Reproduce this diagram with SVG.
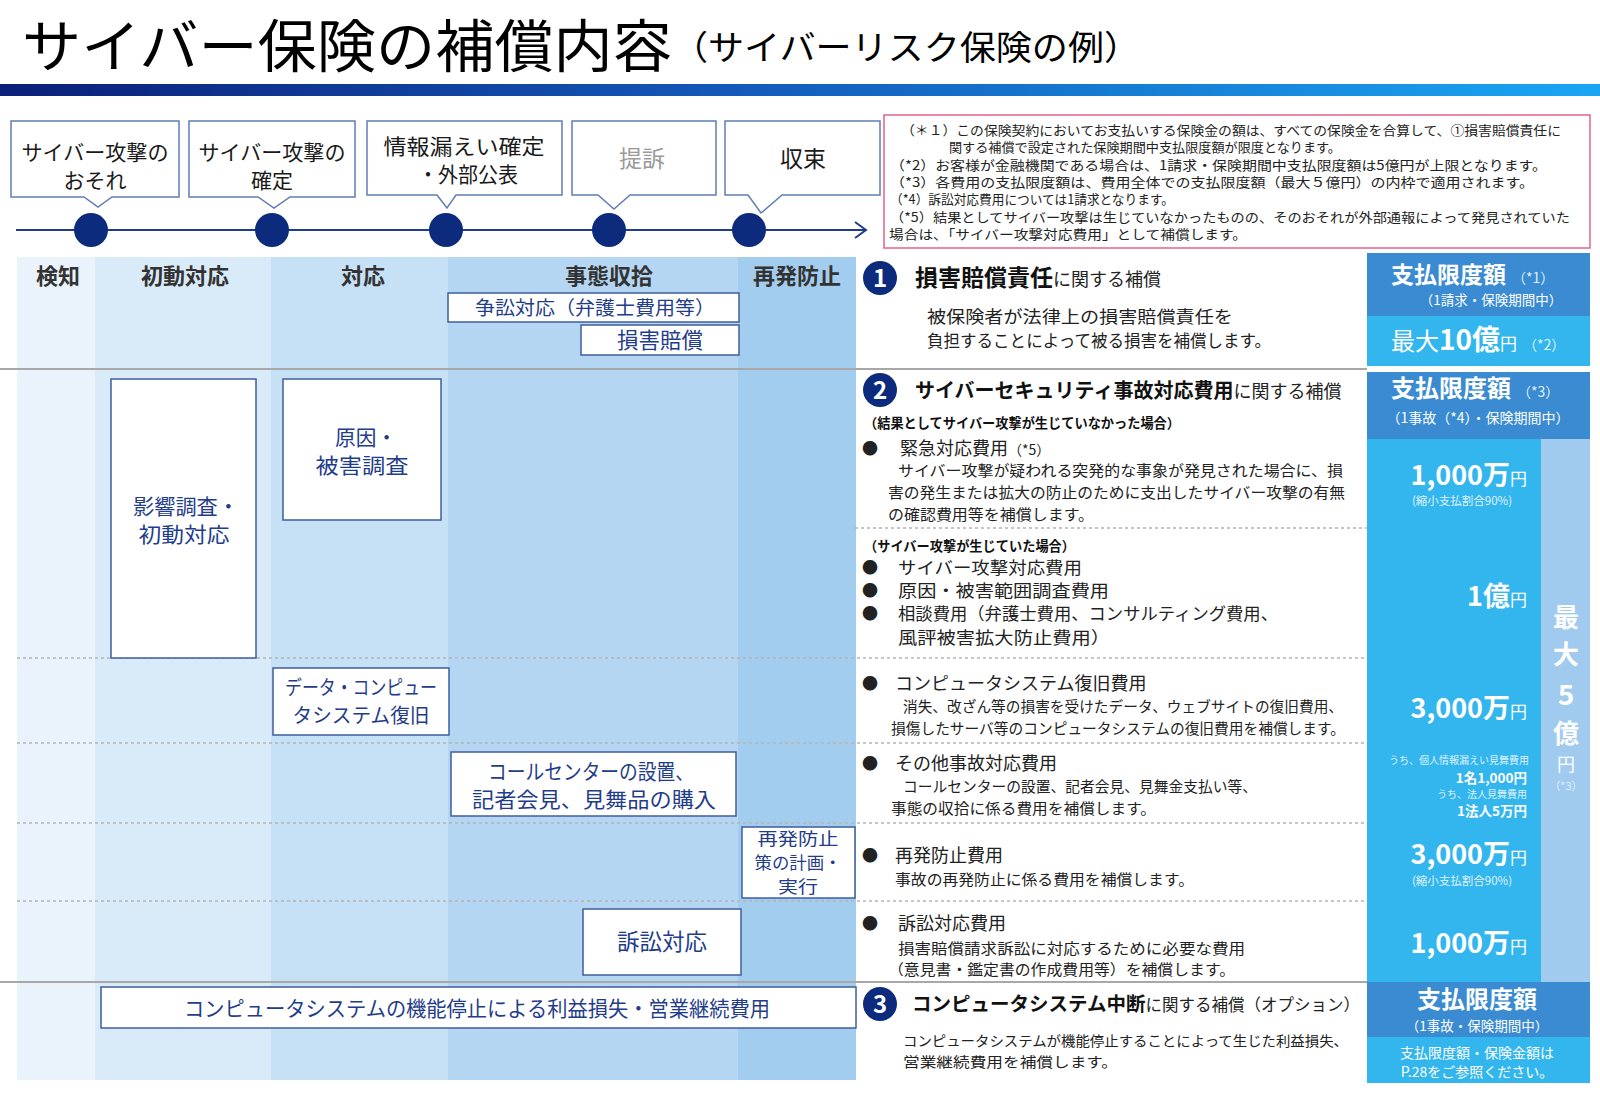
<svg xmlns="http://www.w3.org/2000/svg" width="1600" height="1093" viewBox="0 0 1600 1093">
<defs>
<linearGradient id="bar" x1="0" y1="0" x2="1" y2="0">
<stop offset="0" stop-color="#0a1f78"/>
<stop offset="0.45" stop-color="#1358b8"/>
<stop offset="1" stop-color="#19a6f4"/>
</linearGradient>
<style>
text{font-family:"Noto Sans CJK JP","Noto Sans",sans-serif;}
.callout{fill:#fff;stroke:#5f7db3;stroke-width:1.5;}
.ct{font-size:21px;fill:#1a1a1a;text-anchor:middle;}
.dot{fill:#0d2b7d;}
.hdr{font-size:22px;font-weight:bold;fill:#333;text-anchor:middle;}
.box{fill:#fff;stroke:#3e5d9c;stroke-width:1.5;}
.bt{fill:#1f3d8a;text-anchor:middle;}
.sep{stroke:#a8a8a8;stroke-width:2;}
.dash{stroke:#b4b4b4;stroke-width:1.5;stroke-dasharray:3 3;}
.num{fill:#0d2b7d;}
.numt{font-size:24px;font-weight:bold;fill:#fff;text-anchor:middle;}
.tb{font-weight:bold;fill:#111;}
.tx{fill:#222;}
.dark{fill:#3a8bd1;}
.cyan{fill:#33b6ed;}
.strip{fill:#a0cbef;}
.w{fill:#fff;}
.wl{fill:#dff1fc;}
</style>
</defs>
<rect x="0" y="0" width="1600" height="1093" fill="#fff"/>

<g id="title">
<text x="22" y="66.5" font-size="57" fill="#000" textLength="650" lengthAdjust="spacingAndGlyphs">サイバー保険の補償内容</text>
<text x="672" y="60" font-size="34" fill="#000" textLength="468" lengthAdjust="spacingAndGlyphs">（サイバーリスク保険の例）</text>
<rect x="0" y="84" width="1600" height="12" fill="url(#bar)"/>
</g>

<g id="columns">
<rect x="17" y="257" width="78" height="823" fill="#eaf3fc"/>
<rect x="95" y="257" width="176" height="823" fill="#d9eaf9"/>
<rect x="271" y="257" width="177" height="823" fill="#c6e0f6"/>
<rect x="448" y="257" width="290" height="823" fill="#b4d6f2"/>
<rect x="738" y="257" width="118" height="823" fill="#a3cdef"/>
<text class="hdr" x="58" y="284">検知</text>
<text class="hdr" x="185" y="284">初動対応</text>
<text class="hdr" x="363" y="284">対応</text>
<text class="hdr" x="609" y="284">事態収拾</text>
<text class="hdr" x="797" y="284">再発防止</text>
</g>

<g id="connectors">
<line x1="16" y1="230" x2="866" y2="230" stroke="#1f3d8a" stroke-width="2"/>
<polyline points="855,222 866,230 855,238" fill="none" stroke="#1f3d8a" stroke-width="2"/>
<line class="sep" x1="0" y1="369" x2="1367" y2="369"/>
<line class="sep" x1="0" y1="982" x2="1367" y2="982"/>
<line class="dash" x1="855" y1="528" x2="1541" y2="528"/>
<line class="dash" x1="17" y1="658" x2="1541" y2="658"/>
<line class="dash" x1="17" y1="743" x2="1541" y2="743"/>
<line class="dash" x1="17" y1="823" x2="1541" y2="823"/>
<line class="dash" x1="17" y1="901" x2="1541" y2="901"/>
</g>

<g id="ev1">
<path class="callout" d="M11,121 H179 V197 H112 L98,207 L84,197 H11 Z"/>
<text class="ct" x="95" y="160" textLength="147" lengthAdjust="spacingAndGlyphs">サイバー攻撃の</text>
<text class="ct" x="95" y="188">おそれ</text>
<circle class="dot" cx="91" cy="230" r="17"/>
</g>
<g id="ev2">
<path class="callout" d="M189,121 H355 V197 H290 L274,208 L258,197 H189 Z"/>
<text class="ct" x="272" y="160" textLength="147" lengthAdjust="spacingAndGlyphs">サイバー攻撃の</text>
<text class="ct" x="272" y="188">確定</text>
<circle class="dot" cx="272" cy="230" r="17"/>
</g>
<g id="ev3">
<path class="callout" d="M367,121 H562 V195 H456 L447,208 L437,195 H367 Z"/>
<text class="ct" x="464" y="154" textLength="161" lengthAdjust="spacingAndGlyphs">情報漏えい確定</text>
<text class="ct" x="468" y="182" textLength="100" lengthAdjust="spacingAndGlyphs">・外部公表</text>
<circle class="dot" cx="446" cy="230" r="17"/>
</g>
<g id="ev4">
<path class="callout" d="M572,121 H716 V195 H630 L614,209 L598,195 H572 Z"/>
<text class="ct" x="642" y="167" style="fill:#9a9a9a;font-size:23px">提訴</text>
<circle class="dot" cx="609" cy="230" r="17"/>
</g>
<g id="ev5">
<path class="callout" d="M725,121 H880 V195 H782 L761,213 L748,195 H725 Z"/>
<text class="ct" x="803" y="167" style="font-size:23px">収束</text>
<circle class="dot" cx="749" cy="230" r="17"/>
</g>

<g id="box-soshou">
<rect class="box" x="448" y="293" width="291" height="29"/>
<text class="bt" x="595" y="315" font-size="19" textLength="240" lengthAdjust="spacingAndGlyphs">争訟対応（弁護士費用等）</text>
</g>
<g id="box-songai">
<rect class="box" x="581" y="325" width="158" height="30"/>
<text class="bt" x="660" y="348" font-size="21.5">損害賠償</text>
</g>
<g id="box-eikyou">
<rect class="box" x="111" y="379" width="145" height="279"/>
<text class="bt" x="186" y="514" font-size="21" textLength="106" lengthAdjust="spacingAndGlyphs">影響調査・</text>
<text class="bt" x="184" y="542" font-size="21" textLength="91" lengthAdjust="spacingAndGlyphs">初動対応</text>
</g>
<g id="box-genin">
<rect class="box" x="283" y="379" width="158" height="141"/>
<text class="bt" x="366" y="445" font-size="21" textLength="62" lengthAdjust="spacingAndGlyphs">原因・</text>
<text class="bt" x="362" y="473" font-size="21" textLength="93" lengthAdjust="spacingAndGlyphs">被害調査</text>
</g>
<g id="box-data">
<rect class="box" x="273" y="668" width="176" height="67"/>
<text class="bt" x="361" y="695" font-size="20" textLength="152" lengthAdjust="spacingAndGlyphs">データ・コンピュー</text>
<text class="bt" x="361" y="723" font-size="20" textLength="137" lengthAdjust="spacingAndGlyphs">タシステム復旧</text>
</g>
<g id="box-call">
<rect class="box" x="451" y="752" width="285" height="64"/>
<text class="bt" x="591" y="779" font-size="21" textLength="206" lengthAdjust="spacingAndGlyphs">コールセンターの設置、</text>
<text class="bt" x="594" y="807" font-size="21" textLength="244" lengthAdjust="spacingAndGlyphs">記者会見、見舞品の購入</text>
</g>
<g id="box-saihatsu">
<rect class="box" x="742" y="827" width="113" height="71"/>
<text class="bt" x="798" y="845" font-size="17" textLength="81" lengthAdjust="spacingAndGlyphs">再発防止</text>
<text class="bt" x="798" y="869" font-size="17" textLength="87" lengthAdjust="spacingAndGlyphs">策の計画・</text>
<text class="bt" x="798" y="893" font-size="17" textLength="40" lengthAdjust="spacingAndGlyphs">実行</text>
</g>
<g id="box-sosho">
<rect class="box" x="583" y="909" width="158" height="66"/>
<text class="bt" x="662" y="950" font-size="22.5">訴訟対応</text>
</g>
<g id="box-teishi">
<rect class="box" x="101" y="987" width="755" height="41"/>
<text class="bt" x="477" y="1016" font-size="21" textLength="586" lengthAdjust="spacingAndGlyphs">コンピュータシステムの機能停止による利益損失・営業継続費用</text>
</g>

<g id="footnotes">
<rect x="884" y="115" width="706" height="133" fill="#fff" stroke="#e3628e" stroke-width="1.5"/>
<text class="tx" font-size="13" x="901" y="135" textLength="660" lengthAdjust="spacingAndGlyphs">（＊１）この保険契約においてお支払いする保険金の額は、すべての保険金を合算して、①損害賠償責任に</text>
<text class="tx" font-size="13" x="949" y="152" textLength="392" lengthAdjust="spacingAndGlyphs">関する補償で設定された保険期間中支払限度額が限度となります。</text>
<text class="tx" font-size="13" x="890" y="169.5" textLength="657" lengthAdjust="spacingAndGlyphs">（*2）お客様が金融機関である場合は、1請求・保険期間中支払限度額は5億円が上限となります。</text>
<text class="tx" font-size="13" x="890" y="187" textLength="644" lengthAdjust="spacingAndGlyphs">（*3）各費用の支払限度額は、費用全体での支払限度額（最大５億円）の内枠で適用されます。</text>
<text class="tx" font-size="13" x="890" y="204" textLength="284" lengthAdjust="spacingAndGlyphs">（*4）訴訟対応費用については1請求となります。</text>
<text class="tx" font-size="13" x="890" y="221.5" textLength="680" lengthAdjust="spacingAndGlyphs">（*5）結果としてサイバー攻撃は生じていなかったものの、そのおそれが外部通報によって発見されていた</text>
<text class="tx" font-size="13" x="889" y="239" textLength="358" lengthAdjust="spacingAndGlyphs">場合は、「サイバー攻撃対応費用」として補償します。</text>
</g>

<g id="sec1">
<circle class="num" cx="880" cy="278" r="17"/>
<text class="numt" x="880" y="287">1</text>
<text x="915" y="286"><tspan class="tb" font-size="23">損害賠償責任</tspan><tspan class="tx" font-size="18">に関する補償</tspan></text>
<text class="tx" font-size="17" x="927" y="323" textLength="306" lengthAdjust="spacingAndGlyphs">被保険者が法律上の損害賠償責任を</text>
<text class="tx" font-size="17" x="927" y="347" textLength="344" lengthAdjust="spacingAndGlyphs">負担することによって被る損害を補償します。</text>
</g>
<g id="limit1">
<rect class="dark" x="1367" y="253" width="223" height="63"/>
<rect class="cyan" x="1367" y="316" width="223" height="50"/>
<text x="1391" y="282.5"><tspan class="w" font-size="23" font-weight="bold">支払限度額</tspan><tspan class="wl" font-size="14" dx="6">（*1）</tspan></text>
<text class="w" x="1491" y="305" font-size="13.5" text-anchor="middle">（1請求・保険期間中）</text>
<text x="1391" y="350"><tspan class="w" font-size="24">最大</tspan><tspan class="w" font-size="28" font-weight="bold">10億</tspan><tspan class="w" font-size="17">円</tspan><tspan class="wl" font-size="14" dx="6">（*2）</tspan></text>
</g>

<g id="sec2">
<circle class="num" cx="880" cy="390" r="17"/>
<text class="numt" x="880" y="399">2</text>
<text x="915" y="398"><tspan class="tb" font-size="20">サイバーセキュリティ事故対応費用</tspan><tspan class="tx" font-size="18">に関する補償</tspan></text>
<text class="tb" font-size="13.5" x="864" y="428" textLength="316" lengthAdjust="spacingAndGlyphs">（結果としてサイバー攻撃が生じていなかった場合）</text>
<text class="tx" font-size="16" x="862" y="454">●</text>
<text class="tx" x="900" y="455"><tspan font-size="18">緊急対応費用</tspan><tspan font-size="14">（*5）</tspan></text>
<text class="tx" font-size="15" x="898" y="476" textLength="445" lengthAdjust="spacingAndGlyphs">サイバー攻撃が疑われる突発的な事象が発見された場合に、損</text>
<text class="tx" font-size="15" x="888" y="498" textLength="457" lengthAdjust="spacingAndGlyphs">害の発生または拡大の防止のために支出したサイバー攻撃の有無</text>
<text class="tx" font-size="15" x="888" y="520" textLength="206" lengthAdjust="spacingAndGlyphs">の確認費用等を補償します。</text>
<text class="tb" font-size="13.5" x="864" y="551" textLength="211" lengthAdjust="spacingAndGlyphs">（サイバー攻撃が生じていた場合）</text>
<text class="tx" font-size="16" x="862" y="573">●</text>
<text class="tx" font-size="17" x="898" y="574" textLength="184" lengthAdjust="spacingAndGlyphs">サイバー攻撃対応費用</text>
<text class="tx" font-size="16" x="862" y="596">●</text>
<text class="tx" font-size="17" x="898" y="597" textLength="211" lengthAdjust="spacingAndGlyphs">原因・被害範囲調査費用</text>
<text class="tx" font-size="16" x="862" y="619">●</text>
<text class="tx" font-size="17" x="898" y="620" textLength="380" lengthAdjust="spacingAndGlyphs">相談費用（弁護士費用、コンサルティング費用、</text>
<text class="tx" font-size="17" x="898" y="644" textLength="212" lengthAdjust="spacingAndGlyphs">風評被害拡大防止費用）</text>
<text class="tx" font-size="16" x="862" y="689">●</text>
<text class="tx" font-size="18" x="895" y="690">コンピュータシステム復旧費用</text>
<text class="tx" font-size="15" x="903" y="712" textLength="440" lengthAdjust="spacingAndGlyphs">消失、改ざん等の損害を受けたデータ、ウェブサイトの復旧費用、</text>
<text class="tx" font-size="15" x="891" y="734" textLength="454" lengthAdjust="spacingAndGlyphs">損傷したサーバ等のコンピュータシステムの復旧費用を補償します。</text>
<text class="tx" font-size="16" x="862" y="769">●</text>
<text class="tx" font-size="18" x="895" y="770">その他事故対応費用</text>
<text class="tx" font-size="15" x="903" y="792" textLength="354" lengthAdjust="spacingAndGlyphs">コールセンターの設置、記者会見、見舞金支払い等、</text>
<text class="tx" font-size="15" x="891" y="814" textLength="265" lengthAdjust="spacingAndGlyphs">事態の収拾に係る費用を補償します。</text>
<text class="tx" font-size="16" x="862" y="861">●</text>
<text class="tx" font-size="18" x="895" y="862">再発防止費用</text>
<text class="tx" font-size="15" x="895" y="885" textLength="299" lengthAdjust="spacingAndGlyphs">事故の再発防止に係る費用を補償します。</text>
<text class="tx" font-size="16" x="862" y="929">●</text>
<text class="tx" font-size="18" x="898" y="930">訴訟対応費用</text>
<text class="tx" font-size="15" x="898" y="954" textLength="347" lengthAdjust="spacingAndGlyphs">損害賠償請求訴訟に対応するために必要な費用</text>
<text class="tx" font-size="15" x="888" y="975" textLength="347" lengthAdjust="spacingAndGlyphs">（意見書・鑑定書の作成費用等）を補償します。</text>
</g>
<g id="limit2">
<rect class="dark" x="1367" y="372" width="223" height="67"/>
<rect class="cyan" x="1367" y="439" width="174" height="543"/>
<rect class="strip" x="1541" y="439" width="49" height="543"/>
<text x="1391" y="397"><tspan class="w" font-size="24" font-weight="bold">支払限度額</tspan><tspan class="wl" font-size="14" dx="6">（*3）</tspan></text>
<text class="w" x="1478" y="423" font-size="14" text-anchor="middle">（1事故（*4）・保険期間中）</text>
<text x="1527" y="485" text-anchor="end"><tspan class="w" font-size="27" font-weight="bold">1,000万</tspan><tspan class="w" font-size="17">円</tspan></text>
<text class="wl" x="1462" y="505" font-size="11.5" text-anchor="middle">(縮小支払割合90%)</text>
<text x="1527" y="606" text-anchor="end"><tspan class="w" font-size="27" font-weight="bold">1億</tspan><tspan class="w" font-size="17">円</tspan></text>
<text x="1527" y="718" text-anchor="end"><tspan class="w" font-size="27" font-weight="bold">3,000万</tspan><tspan class="w" font-size="17">円</tspan></text>
<text class="wl" x="1529" y="764" font-size="10" text-anchor="end">うち、個人情報漏えい見舞費用</text>
<text class="w" x="1527" y="783" font-size="13.5" font-weight="bold" text-anchor="end">1名1,000円</text>
<text class="wl" x="1527" y="798" font-size="10" text-anchor="end">うち、法人見舞費用</text>
<text class="w" x="1527" y="816" font-size="13.5" font-weight="bold" text-anchor="end">1法人5万円</text>
<text x="1527" y="864" text-anchor="end"><tspan class="w" font-size="27" font-weight="bold">3,000万</tspan><tspan class="w" font-size="17">円</tspan></text>
<text class="wl" x="1462" y="885" font-size="11.5" text-anchor="middle">(縮小支払割合90%)</text>
<text x="1527" y="953" text-anchor="end"><tspan class="w" font-size="27" font-weight="bold">1,000万</tspan><tspan class="w" font-size="17">円</tspan></text>
<text class="w" x="1566" y="627" font-size="26" font-weight="bold" text-anchor="middle">最</text>
<text class="w" x="1566" y="664" font-size="26" font-weight="bold" text-anchor="middle">大</text>
<text class="w" x="1566" y="705" font-size="28" font-weight="bold" text-anchor="middle">5</text>
<text class="w" x="1566" y="743" font-size="26" font-weight="bold" text-anchor="middle">億</text>
<text class="w" x="1566" y="771" font-size="18" text-anchor="middle">円</text>
<text class="wl" x="1566" y="790" font-size="11" text-anchor="middle">（*3）</text>
</g>

<g id="sec3">
<circle class="num" cx="880" cy="1004" r="17"/>
<text class="numt" x="880" y="1013">3</text>
<text x="912" y="1011"><tspan class="tb" font-size="19.5">コンピュータシステム中断</tspan><tspan class="tx" font-size="16.5">に関する補償（オプション）</tspan></text>
<text class="tx" font-size="14" x="903" y="1046" textLength="445" lengthAdjust="spacingAndGlyphs">コンピュータシステムが機能停止することによって生じた利益損失、</text>
<text class="tx" font-size="14" x="903" y="1067" textLength="215" lengthAdjust="spacingAndGlyphs">営業継続費用を補償します。</text>
</g>
<g id="limit3">
<rect class="dark" x="1367" y="982" width="223" height="55"/>
<rect class="cyan" x="1367" y="1037" width="223" height="46"/>
<text class="w" x="1477" y="1008" font-size="24" font-weight="bold" text-anchor="middle">支払限度額</text>
<text class="w" x="1477" y="1031" font-size="13.5" text-anchor="middle">（1事故・保険期間中）</text>
<text class="w" x="1477" y="1058" font-size="14" text-anchor="middle">支払限度額・保険金額は</text>
<text class="w" x="1477" y="1077" font-size="14" text-anchor="middle">P.28をご参照ください。</text>
</g>
</svg>
